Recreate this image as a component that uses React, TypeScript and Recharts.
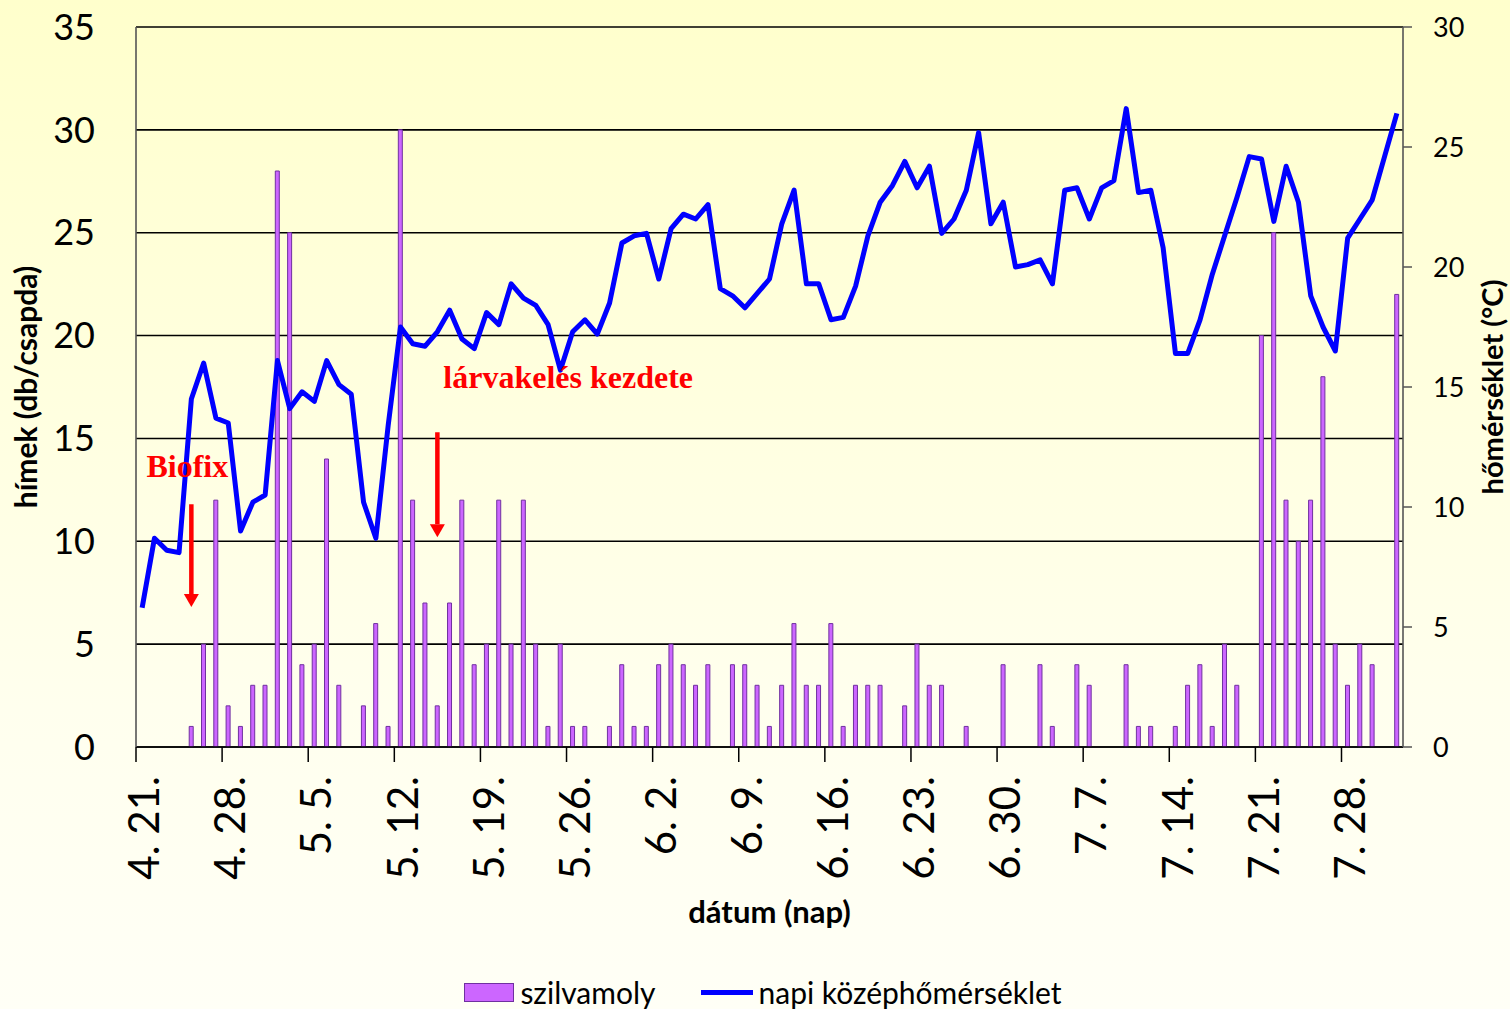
import React from "react";
import {
  ComposedChart,
  Bar,
  Line,
  XAxis,
  YAxis,
  CartesianGrid,
  ReferenceLine,
  Legend,
} from "recharts";

// daily categories, 4. 21. -> 8. 1.
const startMonth = 4;
const startDay = 21;
const dayCount = 103;
const monthLengths: Record<number, number> = { 4: 30, 5: 31, 6: 30, 7: 31, 8: 31 };

const dates: string[] = [];
{
  let m = startMonth;
  let d = startDay;
  for (let i = 0; i < dayCount; i++) {
    dates.push(`${m}. ${d}.`);
    d++;
    if (d > monthLengths[m]) {
      m++;
      d = 1;
    }
  }
}

// hímek (db/csapda) - szilvamoly catches
const moths: (number | null)[] = [
  null, null, null, null, 1, 5, 12, 2, 1, 3,
  3, 28, 25, 4, 5, 14, 3, null, 2, 6,
  1, 30, 12, 7, 2, 7, 12, 4, 5, 12,
  5, 12, 5, 1, 5, 1, 1, null, 1, 4,
  1, 1, 4, 5, 4, 3, 4, null, 4, 4,
  3, 1, 3, 6, 3, 3, 6, 1, 3, 3,
  3, null, 2, 5, 3, 3, null, 1, null, null,
  4, null, null, 4, 1, null, 4, 3, null, null,
  4, 1, 1, null, 1, 3, 4, 1, 5, 3,
  null, 20, 25, 12, 10, 12, 18, 5, 3, 5,
  4, null, 22,
];

// napi középhőmérséklet (°C)
const temps: number[] = [
  5.8, 8.7, 8.2, 8.1, 14.5, 16.0, 13.7, 13.5, 9.0, 10.2,
  10.5, 16.1, 14.1, 14.8, 14.4, 16.1, 15.1, 14.7, 10.2, 8.7,
  13.4, 17.5, 16.8, 16.7, 17.3, 18.2, 17.0, 16.6, 18.1, 17.6,
  19.3, 18.7, 18.4, 17.6, 15.7, 17.3, 17.8, 17.2, 18.5, 21.0,
  21.3, 21.4, 19.5, 21.6, 22.2, 22.0, 22.6, 19.1, 18.8, 18.3,
  18.9, 19.5, 21.8, 23.2, 19.3, 19.3, 17.8, 17.9, 19.2, 21.3,
  22.7, 23.4, 24.4, 23.3, 24.2, 21.4, 22.0, 23.2, 25.6, 21.8,
  22.7, 20.0, 20.1, 20.3, 19.3, 23.2, 23.3, 22.0, 23.3, 23.6,
  26.6, 23.1, 23.2, 20.8, 16.4, 16.4, 17.8, 19.7, 21.3, 22.9,
  24.6, 24.5, 21.9, 24.2, 22.7, 18.8, 17.5, 16.5, 21.2, 22.0,
  22.8, 24.6, 26.4,
];

const leftTicks = [0, 5, 10, 15, 20, 25, 30, 35];
const rightTicks = [0, 5, 10, 15, 20, 25, 30];

// arrows: date, top value, tip value (left axis)
const biofix = { label: "Biofix", date: "4. 25.", from: 11.8, to: 6.8 };
const larva = { label: "lárvakelés kezdete", date: "5. 15.", from: 15.3, to: 10.2 };

const data = dates.map((date, i) => ({
  date,
  szilvamoly: moths[i],
  temp: temps[i],
}));

const W = 1510;
const H = 1009;
const LEFT_W = 136;
const RIGHT_W = 107;
const BAND = (W - LEFT_W - RIGHT_W) / dates.length;

const BAR_FILL = "#CC66FF";
const BAR_STROKE = "#7030A0";
const LINE_COLOR = "#0000FF";

const DateTick = (props: any) => {
  const { x, y, payload } = props;
  const bx = x - BAND / 2;
  const tx = x + 2;
  const ty = y + 29;
  return (
    <g>
      <line x1={bx} y1={y} x2={bx} y2={y + 15} stroke="#000" strokeWidth={1.5} />
      <text
        x={tx}
        y={ty}
        dy="0.36em"
        textAnchor="end"
        transform={`rotate(-90, ${tx}, ${ty})`}
        fontSize={42}
        fill="#000"
      >
        {payload.value}
      </text>
    </g>
  );
};

const arrowShape =
  (label: string, anchor: "start" | "middle", dx: number, dy: number) =>
  (props: any) => {
    const { x1, y1, x2, y2 } = props;
    const head = 13;
    return (
      <g>
        <line x1={x1} y1={y1} x2={x2} y2={y2 - head} stroke="#FF0000" strokeWidth={4.5} />
        <polygon
          points={`${x2 - 7.5},${y2 - head} ${x2 + 7.5},${y2 - head} ${x2},${y2}`}
          fill="#FF0000"
        />
        <text
          x={x1 + dx}
          y={y1 + dy}
          textAnchor={anchor}
          fill="#FF0000"
          fontFamily="'Liberation Serif', 'Times New Roman', serif"
          fontWeight="bold"
          fontSize={32}
        >
          {label}
        </text>
      </g>
    );
  };

const LegendContent = () => (
  <div
    style={{
      display: "flex",
      justifyContent: "center",
      alignItems: "center",
      height: 40,
      paddingTop: 6,
      paddingLeft: 16,
      boxSizing: "border-box",
      fontFamily: "Lato, sans-serif",
      fontSize: 30,
      color: "#000",
    }}
  >
    <span
      style={{
        display: "inline-block",
        width: 48,
        height: 17,
        background: BAR_FILL,
        border: `1px solid ${BAR_STROKE}`,
        marginRight: 6,
      }}
    />
    <span>szilvamoly</span>
    <span
      style={{
        display: "inline-block",
        width: 52,
        height: 5,
        background: LINE_COLOR,
        marginLeft: 45,
        marginRight: 6,
      }}
    />
    <span>napi középhőmérséklet</span>
  </div>
);

const App: React.FC = () => {
  return (
    <div
      style={{
        position: "absolute",
        left: 0,
        top: 0,
        width: W,
        height: H,
        background: "linear-gradient(to bottom, #FFFFCC 0%, #FFFFEE 70%, #FFFFF6 100%)",
        fontFamily: "Lato, sans-serif",
      }}
    >
      <ComposedChart
        width={W}
        height={H}
        data={data}
        margin={{ top: 27, right: 0, bottom: 0, left: 0 }}
      >
        <CartesianGrid yAxisId="left" vertical={false} stroke="#000" strokeWidth={1.6} />
        <XAxis
          dataKey="date"
          interval={6}
          height={222}
          tickSize={0}
          tickMargin={0}
          tickLine={false}
          axisLine={{ stroke: "#000", strokeWidth: 1.6 }}
          tick={<DateTick />}
          label={{
            value: "dátum (nap)",
            position: "insideBottom",
            offset: 46,
            style: { fontWeight: "bold", fontSize: 31, fill: "#000" },
          }}
        />
        <YAxis
          yAxisId="left"
          orientation="left"
          width={LEFT_W}
          domain={[0, 35]}
          ticks={leftTicks}
          tickSize={0}
          tickMargin={41}
          tickLine={false}
          axisLine={{ stroke: "#555", strokeWidth: 1.6 }}
          tick={{ fontSize: 36, fill: "#000" }}
          label={{
            content: (p: any) => {
              const vb = p.viewBox;
              const cx = vb.x + 26;
              const cy = vb.y + vb.height / 2;
              return (
                <text
                  x={cx}
                  y={cy}
                  dy="0.36em"
                  textAnchor="middle"
                  transform={`rotate(-90, ${cx}, ${cy})`}
                  fontWeight="bold"
                  fontSize={30}
                  fill="#000"
                >
                  hímek (db/csapda)
                </text>
              );
            },
          }}
        />
        <YAxis
          yAxisId="right"
          orientation="right"
          width={RIGHT_W}
          domain={[0, 30]}
          ticks={rightTicks}
          tickSize={9}
          tickMargin={21}
          tickLine={{ stroke: "#555", strokeWidth: 1.5 }}
          axisLine={{ stroke: "#555", strokeWidth: 1.6 }}
          tick={{ fontSize: 27, fill: "#000", textAnchor: "start" }}
          label={{
            content: (p: any) => {
              const vb = p.viewBox;
              const cx = vb.x + 90;
              const cy = vb.y + vb.height / 2;
              return (
                <text
                  x={cx}
                  y={cy}
                  dy="0.36em"
                  textAnchor="middle"
                  transform={`rotate(-90, ${cx}, ${cy})`}
                  fontWeight="bold"
                  fontSize={29}
                  fill="#000"
                >
                  hőmérséklet (°C)
                </text>
              );
            },
          }}
        />
        <Legend verticalAlign="bottom" height={40} content={<LegendContent />} />
        <Bar
          yAxisId="left"
          dataKey="szilvamoly"
          name="szilvamoly"
          fill={BAR_FILL}
          stroke={BAR_STROKE}
          strokeWidth={1}
          barSize={4}
          isAnimationActive={false}
        />
        <Line
          yAxisId="right"
          type="linear"
          dataKey="temp"
          name="napi középhőmérséklet"
          stroke={LINE_COLOR}
          strokeWidth={5}
          strokeLinejoin="round"
          dot={false}
          activeDot={false}
          isAnimationActive={false}
        />
        <ReferenceLine
          yAxisId="left"
          segment={[
            { x: biofix.date, y: biofix.from },
            { x: biofix.date, y: biofix.to },
          ]}
          shape={arrowShape(biofix.label, "middle", -4, -27)}
        />
        <ReferenceLine
          yAxisId="left"
          segment={[
            { x: larva.date, y: larva.from },
            { x: larva.date, y: larva.to },
          ]}
          shape={arrowShape(larva.label, "start", 6, -44)}
        />
      </ComposedChart>
    </div>
  );
};

export default App;
